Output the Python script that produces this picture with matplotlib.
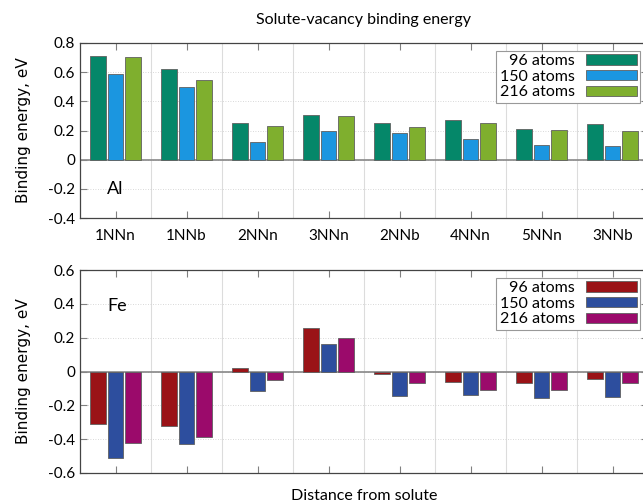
import matplotlib
matplotlib.use("Agg")
import matplotlib.pyplot as plt
from matplotlib.patches import Patch
import numpy as np

categories = ["1NNn", "1NNb", "2NNn", "3NNn", "2NNb", "4NNn", "5NNn", "3NNb"]
series_labels = ["96 atoms", "150 atoms", "216 atoms"]

al_96 = [0.709, 0.624, 0.251, 0.306, 0.254, 0.272, 0.208, 0.245]
al_150 = [0.587, 0.500, 0.123, 0.197, 0.183, 0.144, 0.100, 0.096]
al_216 = [0.704, 0.546, 0.231, 0.302, 0.226, 0.251, 0.201, 0.194]

fe_96 = [-0.310, -0.324, 0.020, 0.258, -0.014, -0.062, -0.066, -0.044]
fe_150 = [-0.510, -0.430, -0.114, 0.162, -0.144, -0.138, -0.158, -0.150]
fe_216 = [-0.420, -0.390, -0.052, 0.198, -0.066, -0.112, -0.112, -0.070]

al_colors = ["#058769", "#1b96e0", "#7faf2e"]
fe_colors = ["#9a1317", "#2d4e9e", "#9b0a6b"]

title_font = "Lato"
label_font = "DejaVu Sans"

fig = plt.figure(figsize=(6.43, 5.04), dpi=100)
ax1 = fig.add_axes([80/643, 1-218/504, 568/643, 175/504])
ax2 = fig.add_axes([80/643, 1-473/504, 568/643, 203/504])

x = np.arange(len(categories))
offsets = [-0.25, 0.0, 0.25]
width = 0.22


def draw(ax, series, colors, ylim, yticks, name, name_y):
    for data, off, col, lab in zip(series, offsets, colors, series_labels):
        ax.bar(x + off, data, width=width, color=col, edgecolor="#606060",
               linewidth=0.6, zorder=3, label=lab)
    ax.set_xlim(-0.5, len(categories) - 0.5)
    ax.set_ylim(*ylim)
    ax.set_yticks(yticks)
    ax.set_yticklabels([("%g" % v) if v != 0 else "0" for v in yticks],
                       family=title_font, fontsize=11)
    ax.set_xticks(x)
    ax.set_xticks(np.arange(len(categories) - 1) + 0.5, minor=True)
    ax.grid(True, axis="x", which="minor", color="#dcdcdc", linewidth=0.8, zorder=0)
    ax.grid(True, axis="y", which="major", color="#cccccc", linewidth=0.6,
            linestyle=(0, (1, 2)), zorder=0)
    ax.tick_params(axis="x", which="minor", length=0)
    ax.tick_params(axis="both", which="major", direction="in", length=5,
                   top=True, right=True, color="#808080", width=0.8)
    ax.axhline(0, color="#888888", linewidth=1.2, zorder=2)
    for s in ax.spines.values():
        s.set_color("#444444")
        s.set_linewidth(0.9)
    ax.set_ylabel("Binding energy, eV", family=label_font, fontsize=11, labelpad=12)
    ax.text(-0.12, name_y, name, family=title_font, fontsize=13, va="center", ha="left")
    handles = [Patch(facecolor=c, edgecolor="#606060", linewidth=0.6) for c in colors]
    leg = ax.legend(handles, series_labels, loc="upper right", markerfirst=False,
                    fancybox=False, framealpha=1, edgecolor="#999999",
                    prop={"family": title_font, "size": 11.5},
                    handlelength=3.2, handleheight=0.6, labelspacing=0.1,
                    borderpad=0.2, handletextpad=0.7, borderaxespad=0.5)
    leg.get_frame().set_linewidth(0.8)
    for t in leg.get_texts():
        t.set_ha("right")


draw(ax1, [al_96, al_150, al_216], al_colors, (-0.4, 0.8),
     [-0.4, -0.2, 0, 0.2, 0.4, 0.6, 0.8], "Al", -0.2)
ax1.set_xticklabels(categories, family=title_font, fontsize=11)
ax1.tick_params(axis="x", pad=8)
ax1.set_title("Solute-vacancy binding energy", family=title_font, fontsize=11.5, pad=14)

draw(ax2, [fe_96, fe_150, fe_216], fe_colors, (-0.6, 0.6),
     [-0.6, -0.4, -0.2, 0, 0.2, 0.4, 0.6], "Fe", 0.39)
ax2.set_xticklabels([])
ax2.set_xlabel("Distance from solute", family=title_font, fontsize=11.5, labelpad=8)

fig.savefig("out.png", dpi=100)
